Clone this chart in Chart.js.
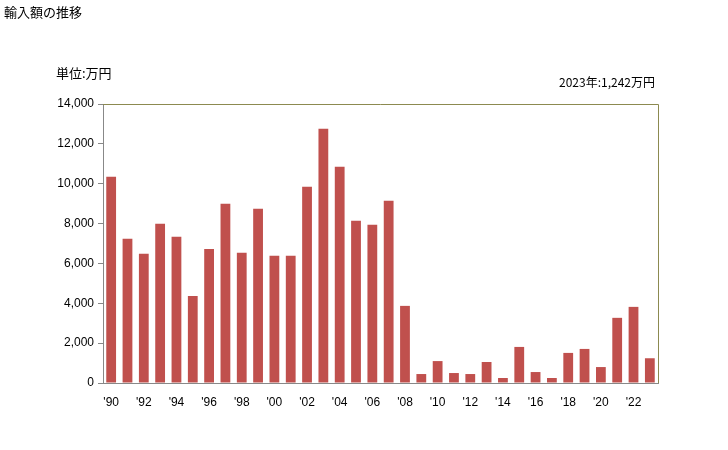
<!DOCTYPE html>
<html>
<head>
<meta charset="utf-8">
<script src="https://cdn.jsdelivr.net/npm/chart.js@4"></script>
<style>
    body { margin: 0; background: #fff; }
    #wrap { position: relative; width: 728px; height: 450px; }
    .txt { position: absolute; font-family: "Noto Sans CJK JP", sans-serif; font-size: 13px; color: #000; white-space: nowrap; line-height: 1; }
    #title { left: 4px; top: 5px; }
    #unit { left: 56px; top: 66px; }
    #note { right: 73px; top: 76px; font-size: 12px; }
</style>
</head>
<body>
<div id="wrap">
    <canvas id="chart" width="728" height="450"></canvas>
    <div class="txt" id="title">輸入額の推移</div>
    <div class="txt" id="unit">単位:万円</div>
    <div class="txt" id="note">2023年:1,242万円</div>
</div>
<script>
const years = ['90', '91', '92', '93', '94', '95', '96', '97', '98', '99',
    '00', '01', '02', '03', '04', '05', '06', '07', '08', '09',
    '10', '11', '12', '13', '14', '15', '16', '17', '18', '19',
    '20', '21', '22', '23'];
const values = [10350, 7240, 6480, 7990, 7340, 4370, 6730, 8990, 6530, 8740,
    6380, 6380, 9850, 12760, 10850, 8140, 7940, 9140, 3870, 450,
    1100, 500, 450, 1055, 250, 1810, 550, 250, 1510, 1710,
    800, 3270, 3820, 1242];
const yTicks = [0, 2000, 4000, 6000, 8000, 10000, 12000, 14000];

// olive frame on top and right side of the plot
const framePlugin = {
    id: 'frame',
    afterDraw(chart) {
        const { ctx, chartArea: a } = chart;
        ctx.save();
        ctx.strokeStyle = '#8c8a50';
        ctx.lineWidth = 1;
        ctx.beginPath();
        ctx.moveTo(a.left, a.top + 0.5);
        ctx.lineTo(a.right + 0.5, a.top + 0.5);
        ctx.lineTo(a.right + 0.5, a.bottom);
        ctx.stroke();
        ctx.restore();
    }
};

new Chart(document.getElementById('chart'), {
    type: 'bar',
    data: {
        labels: years,
        datasets: [{
            data: values,
            backgroundColor: '#c0504d',
            categoryPercentage: 1,
            barPercentage: 0.6
        }]
    },
    options: {
        responsive: false,
        animation: false,
        layout: { padding: { left: 0, right: 70, top: 104, bottom: 37 } },
        plugins: { legend: { display: false }, tooltip: { enabled: false } },
        scales: {
            x: {
                grid: { display: false },
                border: { color: '#888', width: 1 },
                ticks: {
                    autoSkip: false,
                    maxRotation: 0,
                    padding: 4,
                    color: '#000',
                    font: { family: 'Liberation Sans, Arial', size: 12 },
                    callback: (v, i) => i % 2 === 0 ? "'" + years[i] : ''
                },
                afterFit: s => { s.height = 30; }
            },
            y: {
                min: 0,
                max: 14000,
                afterBuildTicks: s => { s.ticks = yTicks.map(v => ({ value: v })); },
                grid: { drawOnChartArea: false, tickLength: 5, color: '#888' },
                border: { color: '#888', width: 1 },
                ticks: {
                    padding: 4,
                    color: '#000',
                    font: { family: 'Liberation Sans, Arial', size: 12 },
                    callback: v => v.toLocaleString('en-US')
                },
                afterFit: s => { s.width = 103; }
            }
        }
    },
    plugins: [framePlugin]
});
</script>
</body>
</html>
